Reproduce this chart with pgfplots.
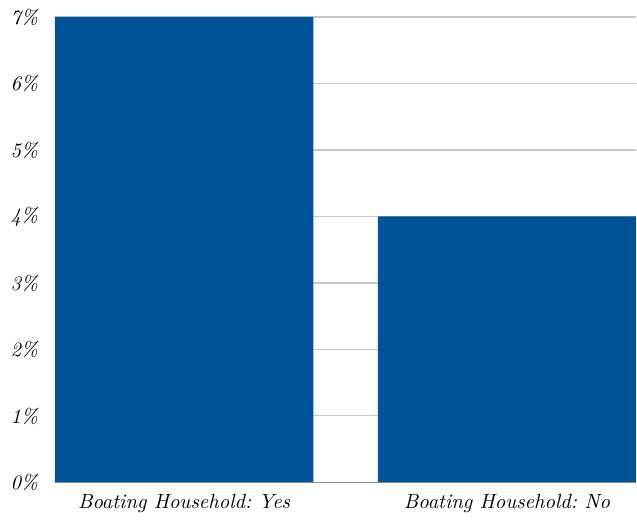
\documentclass[border=0pt]{standalone}
\usepackage{pgfplots}
\pgfplotsset{compat=1.18}
\definecolor{barblue}{RGB}{0,83,150}
\definecolor{gridgray}{RGB}{200,200,200}
\definecolor{basegray}{RGB}{140,140,140}
\begin{document}
\begin{tikzpicture}
\begin{axis}[
  scale only axis,
  width=291bp, height=233bp,
  xmin=-0.4, xmax=1.4,
  ymin=0, ymax=7,
  axis line style={draw=none},
  major tick length=0pt,
  xtick={0,1},
  xticklabels={Boating Household:\ Yes, Boating Household:\ No},
  ytick={0,1,2,3,4,5,6,7},
  yticklabels={0\%,1\%,2\%,3\%,4\%,5\%,6\%,7\%},
  ticklabel style={font=\fontsize{10.3}{12}\selectfont\itshape},
  yticklabel style={xshift=-5bp},
  xticklabel style={yshift=-2.5bp},
  ymajorgrids,
  grid style={gridgray, line width=0.6pt},
  clip=false,
]
\addplot[ybar, bar width=0.8, fill=barblue, draw=none] coordinates {(0,7) (1,4)};
\draw[basegray, line width=0.8pt] (axis cs:-0.4,0) -- (axis cs:1.4,0);
\coordinate (bl0) at (rel axis cs:0,0);
\coordinate (tr0) at (rel axis cs:1,1);
\end{axis}
\path[use as bounding box] ([xshift=-27.5bp,yshift=-18bp]bl0) rectangle ([yshift=8.5bp]tr0);
\end{tikzpicture}
\end{document}
